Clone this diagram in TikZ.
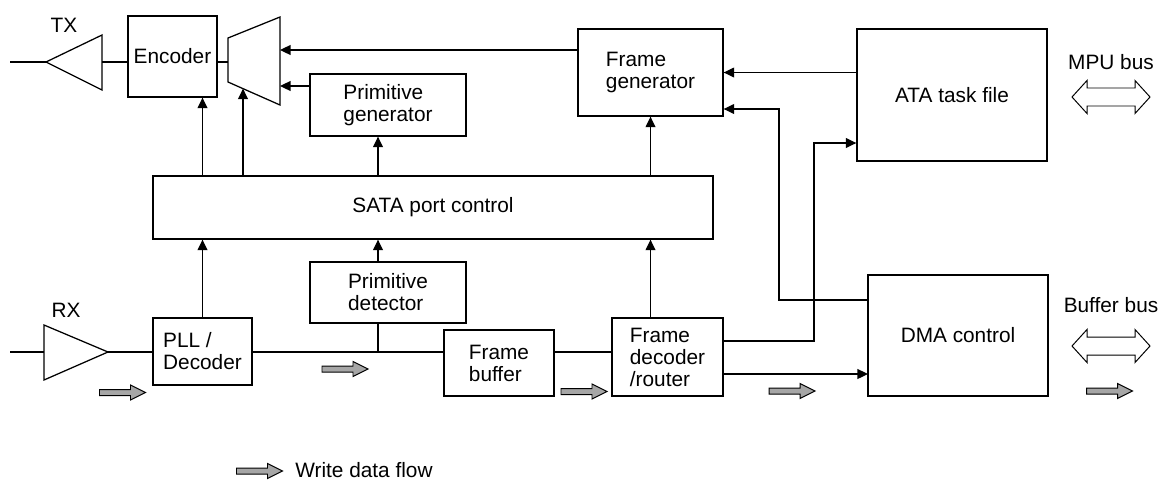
\documentclass[tikz,border=0pt]{standalone}
\usepackage{fontspec}
\setmainfont{Liberation Sans}
\usetikzlibrary{arrows.meta}

\begin{document}
\begin{tikzpicture}[x=0.025cm, y=-0.025cm, line width=0.9pt,
	every node/.style={font=\fontsize{14.8}{15.6}\selectfont},
	blk/.style={draw, rectangle, inner sep=0pt, align=left},
	sig/.style={-{Triangle[length=7.5pt,width=7pt]}},
	flow/.pic={\draw[fill=black!35, line width=0.7pt] (-23,-3) -- (8,-3) -- (8,-7.5) -- (23,0) -- (8,7.5) -- (8,3) -- (-23,3) -- cycle;},
	bus/.pic={\draw[fill=white, line width=0.7pt] (-39,0) -- (-24,-16.5) -- (-24,-9) -- (24,-9) -- (24,-16.5) -- (39,0) -- (24,16.5) -- (24,9) -- (-24,9) -- (-24,16.5) -- cycle;}]

		\useasboundingbox (0,0) rectangle (1164,482);

		\node[blk, minimum width=2.225cm, minimum height=2.025cm] (enc) at (172.5,56.5) {Encoder};
		\node[blk, minimum width=3.9cm, minimum height=1.55cm] (pgen) at (388,105) {Primitive\\generator};
		\node[blk, minimum width=3.625cm, minimum height=2.175cm] (fgen) at (650.5,72.5) {Frame\\generator};
		\node[blk, minimum width=4.75cm, minimum height=3.3cm] (ata) at (952,95) {ATA task file};
		\node[blk, minimum width=14cm, minimum height=1.575cm] (sata) at (433,207.5) {SATA port control};
		\node[blk, minimum width=3.9cm, minimum height=1.525cm] (pdet) at (388,292.5) {Primitive\\detector};
		\node[blk, minimum width=2.475cm, minimum height=1.675cm] (pll) at (202.5,351.5) {PLL /\\Decoder};
		\node[blk, minimum width=2.75cm, minimum height=1.65cm] (fbuf) at (499,363) {Frame\\buffer};
		\node[blk, minimum width=2.775cm, minimum height=1.95cm] (fdec) at (667.5,357) {Frame\\decoder\\/router};
		\node[blk, minimum width=4.5cm, minimum height=3.025cm] (dma) at (958,335.5) {DMA control};

		\node (tx) at (64,25) {TX};
		\node (rx) at (66,310) {RX};
		\node (mpu) at (1111,62) {MPU bus};
		\node (bufbus) at (1111,305) {Buffer bus};

		% transmit side
		\coordinate (txin) at (10,62);
		\coordinate (txtip) at (46,62);
		\coordinate (txa) at (102,35);
		\coordinate (txb) at (102,90);
		\draw (txin) -- (txtip);
		\draw (txtip) -- (txa) -- (txb) -- cycle;
		\draw (txa |- txtip) -- (enc.west |- txtip);

		\coordinate (muxA) at (228,38);
		\coordinate (muxB) at (280,17);
		\coordinate (muxC) at (280,105);
		\coordinate (muxD) at (228,82);
		\draw (muxA) -- (muxB) -- (muxC) -- (muxD) -- cycle;
		\draw (enc.east |- txtip) -- (muxA |- txtip);

		\coordinate (muxR1) at (280,50);
		\coordinate (muxR2) at (280,86);
		\coordinate (muxin) at (243,88.6);
		\draw[sig] (fgen.west |- muxR1) -- (muxR1);
		\draw[sig] (pgen.west |- muxR2) -- (muxR2);

		% port control
		\coordinate (prim) at (378,352);
		\draw[sig] (sata.north -| pll.north) -- (enc.south -| pll.north);
		\draw[sig] (sata.north -| muxin) -- (muxin);
		\draw[sig] (sata.north -| prim) -- (pgen.south -| prim);
		\draw[sig] (sata.north -| fgen.south) -- (fgen.south);
		\draw[sig] (pll.north) -- (sata.south -| pll.north);
		\draw[sig] (pdet.north -| prim) -- (sata.south -| prim);
		\draw[sig] (fdec.north -| fgen.south) -- (sata.south -| fgen.south);

		% receive side
		\coordinate (rxin) at (10,352);
		\coordinate (rxa) at (44,325);
		\coordinate (rxb) at (44,380);
		\coordinate (rxtip) at (108,352);
		\draw (rxin) -- (rxa |- rxin);
		\draw (rxa) -- (rxtip) -- (rxb) -- cycle;
		\draw (rxtip) -- (pll.west |- rxtip);
		\draw (pll.east |- rxtip) -- (fbuf.west |- rxtip);
		\draw (fbuf.east |- rxtip) -- (fdec.west |- rxtip);
		\draw (pdet.south -| prim) -- (prim);

		% host side
		\coordinate (bend1) at (779,300);
		\coordinate (bend2) at (779,109);
		\coordinate (bend3) at (814,341);
		\coordinate (bend4) at (814,143);
		\coordinate (dmain) at (868,374);
		\draw[sig] (ata.west |- fgen.east) -- (fgen.east);
		\draw[sig] (dma.west |- bend1) -- (bend1) -- (bend2) -- (fgen.east |- bend2);
		\draw[sig] (fdec.east |- bend3) -- (bend3) -- (bend4) -- (ata.west |- bend4);
		\draw[sig] (fdec.east |- dmain) -- (dmain);

		\pic at (1111,97) {bus};
		\pic at (1111,346) {bus};

		\pic at (122.5,392.5) {flow};
		\pic at (345,369) {flow};
		\pic at (584,391.5) {flow};
		\pic at (792,391) {flow};
		\pic at (1109.5,391) {flow};

		\pic at (259.5,471) {flow};
		\node[anchor=west] (legend) at (290,470) {Write data flow};

	\end{tikzpicture}
\end{document}
